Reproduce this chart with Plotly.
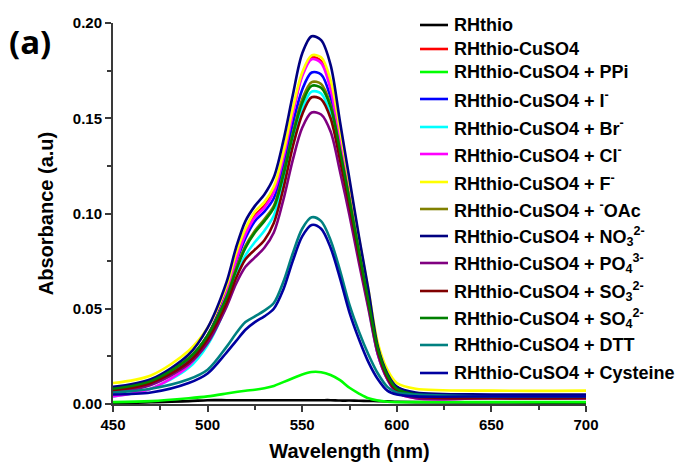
import plotly.graph_objects as go

# Wavelength grid (nm) at which the spectra are tabulated
wavelength = [450, 470, 490, 500, 510, 515, 520, 525, 530, 535, 540, 545, 550,
              555, 560, 565, 570, 575, 580, 585, 590, 595, 600, 610, 650, 700]

# Absorbance of each sample (a.u.)
rhthio = [0.000, 0.001, 0.0015, 0.002, 0.002, 0.002, 0.002, 0.002, 0.002, 0.002, 0.002, 0.002, 0.002,
          0.002, 0.002, 0.002, 0.0018, 0.0018, 0.0017, 0.0016, 0.0015, 0.0014, 0.0012, 0.001, 0.0008, 0.0006]
cuso4 = [0.007, 0.011, 0.023, 0.036, 0.059, 0.076, 0.090, 0.099, 0.104, 0.112, 0.130, 0.153, 0.173,
         0.182, 0.180, 0.167, 0.140, 0.112, 0.083, 0.056, 0.029, 0.015, 0.008, 0.005, 0.004, 0.004]
ppi = [0.001, 0.0015, 0.003, 0.004, 0.0055, 0.0063, 0.007, 0.0075, 0.0083, 0.0095, 0.0115, 0.0135, 0.0155,
       0.0168, 0.0167, 0.0152, 0.0125, 0.0085, 0.0055, 0.003, 0.0018, 0.0012, 0.001, 0.001, 0.001, 0.001]
iodide = [0.007, 0.011, 0.023, 0.036, 0.058, 0.074, 0.087, 0.096, 0.101, 0.108, 0.125, 0.147, 0.165,
          0.174, 0.173, 0.161, 0.137, 0.110, 0.082, 0.056, 0.030, 0.016, 0.009, 0.005, 0.004, 0.004]
bromide = [0.004, 0.008, 0.019, 0.031, 0.052, 0.067, 0.078, 0.085, 0.091, 0.099, 0.116, 0.138, 0.155,
           0.164, 0.163, 0.152, 0.129, 0.104, 0.077, 0.051, 0.026, 0.013, 0.006, 0.004, 0.003, 0.003]
chloride = [0.004, 0.008, 0.020, 0.034, 0.058, 0.075, 0.089, 0.098, 0.103, 0.111, 0.129, 0.152, 0.172,
            0.181, 0.179, 0.165, 0.138, 0.110, 0.080, 0.053, 0.026, 0.013, 0.006, 0.003, 0.003, 0.003]
fluoride = [0.011, 0.015, 0.028, 0.040, 0.062, 0.079, 0.092, 0.101, 0.106, 0.114, 0.132, 0.155, 0.174,
            0.183, 0.182, 0.170, 0.144, 0.116, 0.087, 0.060, 0.032, 0.018, 0.011, 0.008, 0.007, 0.007]
acetate = [0.008, 0.012, 0.024, 0.036, 0.056, 0.071, 0.083, 0.091, 0.097, 0.104, 0.121, 0.142, 0.160,
           0.169, 0.168, 0.157, 0.133, 0.107, 0.079, 0.053, 0.028, 0.015, 0.008, 0.005, 0.004, 0.004]
nitrate = [0.009, 0.013, 0.026, 0.040, 0.064, 0.082, 0.096, 0.104, 0.110, 0.119, 0.138, 0.162, 0.184,
           0.193, 0.191, 0.178, 0.148, 0.118, 0.088, 0.060, 0.030, 0.016, 0.009, 0.006, 0.005, 0.005]
phosphate = [0.006, 0.010, 0.021, 0.032, 0.051, 0.063, 0.072, 0.077, 0.082, 0.090, 0.107, 0.128, 0.145,
             0.153, 0.152, 0.143, 0.122, 0.099, 0.074, 0.050, 0.026, 0.013, 0.006, 0.003, 0.003, 0.003]
sulfite = [0.007, 0.011, 0.022, 0.034, 0.053, 0.066, 0.076, 0.081, 0.086, 0.095, 0.113, 0.135, 0.152,
           0.161, 0.160, 0.150, 0.128, 0.104, 0.078, 0.053, 0.028, 0.014, 0.007, 0.004, 0.003, 0.003]
sulfate = [0.008, 0.012, 0.024, 0.036, 0.056, 0.070, 0.082, 0.090, 0.096, 0.103, 0.120, 0.141, 0.158,
           0.167, 0.166, 0.156, 0.133, 0.107, 0.080, 0.054, 0.029, 0.015, 0.008, 0.005, 0.004, 0.004]
dtt = [0.006, 0.008, 0.013, 0.018, 0.030, 0.037, 0.043, 0.046, 0.049, 0.053, 0.064, 0.079, 0.092,
       0.098, 0.096, 0.086, 0.070, 0.052, 0.038, 0.026, 0.016, 0.009, 0.006, 0.005, 0.004, 0.004]
cysteine = [0.005, 0.006, 0.011, 0.016, 0.027, 0.033, 0.039, 0.043, 0.046, 0.050, 0.060, 0.075, 0.088,
            0.094, 0.092, 0.082, 0.066, 0.048, 0.034, 0.022, 0.013, 0.007, 0.005, 0.004, 0.004, 0.004]

series_values = [rhthio, cuso4, ppi, iodide, bromide, chloride, fluoride, acetate,
                 nitrate, phosphate, sulfite, sulfate, dtt, cysteine]
series_labels = [
    "RHthio",
    "RHthio-CuSO4",
    "RHthio-CuSO4 + PPi",
    "RHthio-CuSO4 + I<sup>-</sup>",
    "RHthio-CuSO4 + Br<sup>-</sup>",
    "RHthio-CuSO4 + Cl<sup>-</sup>",
    "RHthio-CuSO4 + F<sup>-</sup>",
    "RHthio-CuSO4 + <sup>-</sup>OAc",
    "RHthio-CuSO4 + NO<sub>3</sub><sup>2-</sup>",
    "RHthio-CuSO4 + PO<sub>4</sub><sup>3-</sup>",
    "RHthio-CuSO4 + SO<sub>3</sub><sup>2-</sup>",
    "RHthio-CuSO4 + SO<sub>4</sub><sup>2-</sup>",
    "RHthio-CuSO4 + DTT",
    "RHthio-CuSO4 + Cysteine",
]
series_colors = ["#000000", "#FF0000", "#00FF00", "#0000FF", "#00FFFF", "#FF00FF", "#FFFF00",
                 "#808000", "#000080", "#800080", "#800000", "#008000", "#008080", "#0000A0"]

x_ticks = [450, 500, 550, 600, 650, 700]
y_ticks = [0.00, 0.05, 0.10, 0.15, 0.20]
y_tick_text = ["0.00", "0.05", "0.10", "0.15", "0.20"]

W, H = 681, 465
M_L, M_R, M_T, M_B = 113, 95, 23, 61
PLOT_W = W - M_L - M_R
PLOT_H = H - M_T - M_B

fig = go.Figure()
for vals, name, col in zip(series_values, series_labels, series_colors):
    fig.add_trace(go.Scatter(
        x=wavelength, y=vals, mode="lines", name=name, showlegend=False,
        line=dict(color=col, width=2.6, shape="spline", smoothing=0.9),
    ))

# Hand-placed legend: line sample + label per series (pixel rows from the top)
legend_rows_px = [25, 49, 72, 99, 127, 154, 182, 209, 236, 263, 291, 318, 345, 373]
line_x0_px, line_x1_px, text_x_px = 420, 448, 452


def px_to_paper_x(px):
    return (px - M_L) / PLOT_W


def px_to_paper_y(py):
    return (H - M_B - py) / PLOT_H


shapes = []
annotations = []
for row, name, col in zip(legend_rows_px, series_labels, series_colors):
    yp = px_to_paper_y(row)
    shapes.append(dict(type="line", xref="paper", yref="paper",
                       x0=px_to_paper_x(line_x0_px), x1=px_to_paper_x(line_x1_px),
                       y0=yp, y1=yp, line=dict(color=col, width=2.6)))
    annotations.append(dict(text="<b>%s</b>" % name, xref="paper", yref="paper",
                            x=px_to_paper_x(text_x_px), y=yp, xanchor="left", yanchor="middle",
                            showarrow=False,
                            font=dict(family="Liberation Sans, Arial", size=18, color="#000000")))

annotations.append(dict(text="<b>(a)</b>", xref="paper", yref="paper",
                        x=px_to_paper_x(7), y=px_to_paper_y(42), xanchor="left", yanchor="middle",
                        showarrow=False,
                        font=dict(family="Open Sans, Liberation Sans", size=33, color="#000000")))

axis_common = dict(
    showline=True, linecolor="#3a3a3a", linewidth=2,
    ticks="outside", ticklen=6, tickwidth=2, tickcolor="#3a3a3a",
    showgrid=False, zeroline=False, mirror=False,
    tickfont=dict(family="Liberation Sans, Arial", size=15, color="#000000"),
)

fig.update_layout(
    width=W, height=H,
    margin=dict(l=M_L, r=M_R, t=M_T, b=M_B, autoexpand=False),
    paper_bgcolor="#FFFFFF", plot_bgcolor="#FFFFFF",
    showlegend=False,
    shapes=shapes,
    annotations=annotations,
    xaxis=dict(
        range=[450, 700], tickvals=x_ticks, ticktext=["<b>%d</b>" % t for t in x_ticks],
        minor=dict(dtick=25, tick0=450, ticks="outside", ticklen=4, tickwidth=2, tickcolor="#3a3a3a"),
        title=dict(text="<b>Wavelength (nm)</b>", standoff=12,
                   font=dict(family="Liberation Sans, Arial", size=20, color="#000000")),
        **axis_common,
    ),
    yaxis=dict(
        range=[0, 0.2], tickvals=y_ticks, ticktext=["<b>%s</b>" % t for t in y_tick_text],
        minor=dict(dtick=0.025, tick0=0, ticks="outside", ticklen=4, tickwidth=2, tickcolor="#3a3a3a"),
        title=dict(text="<b>Absorbance (a.u)</b>", standoff=14,
                   font=dict(family="Liberation Sans, Arial", size=20, color="#000000")),
        **axis_common,
    ),
)

fig.write_html("out.html")
